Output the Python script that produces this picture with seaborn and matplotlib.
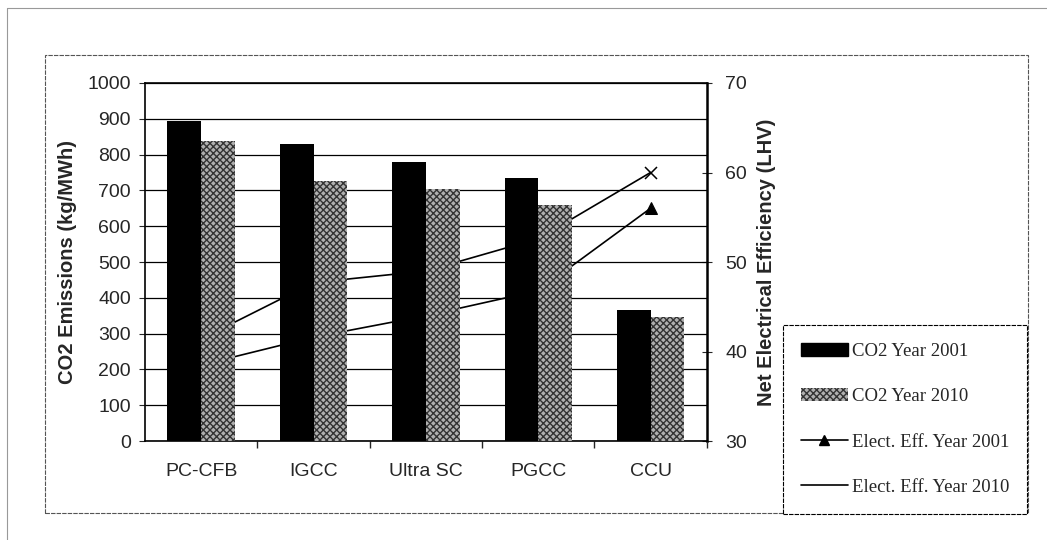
import pandas as pd
import numpy as np
import matplotlib.pyplot as plt
import seaborn as sns
from matplotlib.patches import Patch, Rectangle
from matplotlib.lines import Line2D

# --- data ---
technologies = ['PC-CFB', 'IGCC', 'Ultra SC', 'PGCC', 'CCU']
co2_2001 = [895, 830, 778, 735, 366]
co2_2010 = [838, 726, 705, 659, 346]
eff_2001 = [38.5, 41.6, 44.0, 46.8, 56.0]
eff_2010 = [41.4, 47.7, 49.0, 52.6, 60.0]

df = pd.DataFrame({
    'Technology': technologies * 2,
    'CO2': co2_2001 + co2_2010,
    'Year': ['2001'] * 5 + ['2010'] * 5,
})

sns.set_style('white')
plt.rcParams['font.family'] = ['Liberation Sans', 'DejaVu Sans']

fig = plt.figure(figsize=(10.47, 5.4), dpi=100)
ax = fig.add_axes([0.1385, 0.1833, 0.5365, 0.663])
ax2 = ax.twinx()

# bars on the left axis
sns.barplot(data=df, x='Technology', y='CO2', hue='Year', palette=['black', '#b0b0b0'],
            width=0.6, saturation=1, legend=False, ax=ax, zorder=3)
for bar in ax.containers[1]:
    bar.set_hatch('xxxxx')
    bar.set_edgecolor('#333333')
    bar.set_linewidth(0)
for bar in ax.containers[0]:
    bar.set_linewidth(0)

# efficiency lines on the right axis, drawn behind the bars
pos = np.arange(len(technologies))
sns.lineplot(x=pos, y=eff_2001, ax=ax2, color='black', lw=1.2, marker='^', markersize=9,
             markeredgecolor='black')
sns.lineplot(x=pos, y=eff_2010, ax=ax2, color='black', lw=1.2, marker='x', markersize=9,
             markeredgecolor='black', markeredgewidth=1.1)
ax.set_zorder(ax2.get_zorder() + 1)
ax.patch.set_visible(False)
ax2.patch.set_facecolor('white')

# left axis
ax.set_ylim(0, 1000)
ax.set_yticks(range(0, 1001, 100))
ax.set_xlim(-0.5, 4.5)
ax.yaxis.grid(True, color='black', lw=0.9)
ax.set_axisbelow(True)
ax.set_xlabel('')
ax.set_ylabel('CO2 Emissions (kg/MWh)', fontsize=14.5, fontweight='bold', labelpad=8)
ax.tick_params(axis='y', labelsize=14, length=4, direction='out', left=True, pad=6)
ax.tick_params(axis='x', which='major', labelsize=14, length=0, pad=16)
ax.set_xticks(pos + 0.5, minor=True)
ax.tick_params(axis='x', which='minor', length=5, direction='out', bottom=True, width=1)
for s in ['left', 'bottom', 'top']:
    ax.spines[s].set_color('black')
    ax.spines[s].set_linewidth(1.2)
ax.spines['right'].set_visible(False)

# right axis
ax2.set_ylim(30, 70)
ax2.set_yticks(range(30, 71, 10))
ax2.set_ylabel('Net Electrical Efficiency (LHV)', fontsize=14.5, fontweight='bold', labelpad=7)
ax2.tick_params(axis='y', labelsize=14, length=7, direction='inout', right=True, pad=10)
for s in ['left', 'bottom', 'top']:
    ax2.spines[s].set_visible(False)
ax2.spines['right'].set_color('black')
ax2.spines['right'].set_linewidth(1.8)

# chart area frame and page border
fig.add_artist(Rectangle((0.043, 0.05), 0.939, 0.848, transform=fig.transFigure,
                         fill=False, edgecolor='#555555', lw=0.8, ls=(0, (4, 1))))
fig.add_artist(Line2D([0.0067, 0.0067], [0.0, 0.985], transform=fig.transFigure,
                      color='#999999', lw=0.8))
fig.add_artist(Line2D([0.0067, 1.0], [0.985, 0.985], transform=fig.transFigure,
                      color='#999999', lw=0.8))

# legend
handles = [
    Patch(facecolor='black', edgecolor='black'),
    Patch(facecolor='#b0b0b0', edgecolor='#333333', hatch='xxxxx', lw=0),
    Line2D([], [], color='black', lw=1.2, marker='^', markersize=7),
    Line2D([], [], color='black', lw=1.2),
]
labels = ['CO2 Year 2001', 'CO2 Year 2010', 'Elect. Eff. Year 2001', 'Elect. Eff. Year 2010']
leg = fig.legend(handles, labels, loc='upper left', bbox_to_anchor=(0.748, 0.398),
                 frameon=True, fancybox=False, edgecolor='black', framealpha=1,
                 prop={'family': 'Liberation Serif', 'size': 13.5}, labelspacing=1.5,
                 handlelength=2.5, handletextpad=0.2, borderpad=0.95, borderaxespad=0)
leg.get_frame().set_linewidth(0.8)
leg.get_frame().set_linestyle((0, (4, 1)))

plt.savefig('out.png', dpi=100)
print("Plot saved to out.png")
